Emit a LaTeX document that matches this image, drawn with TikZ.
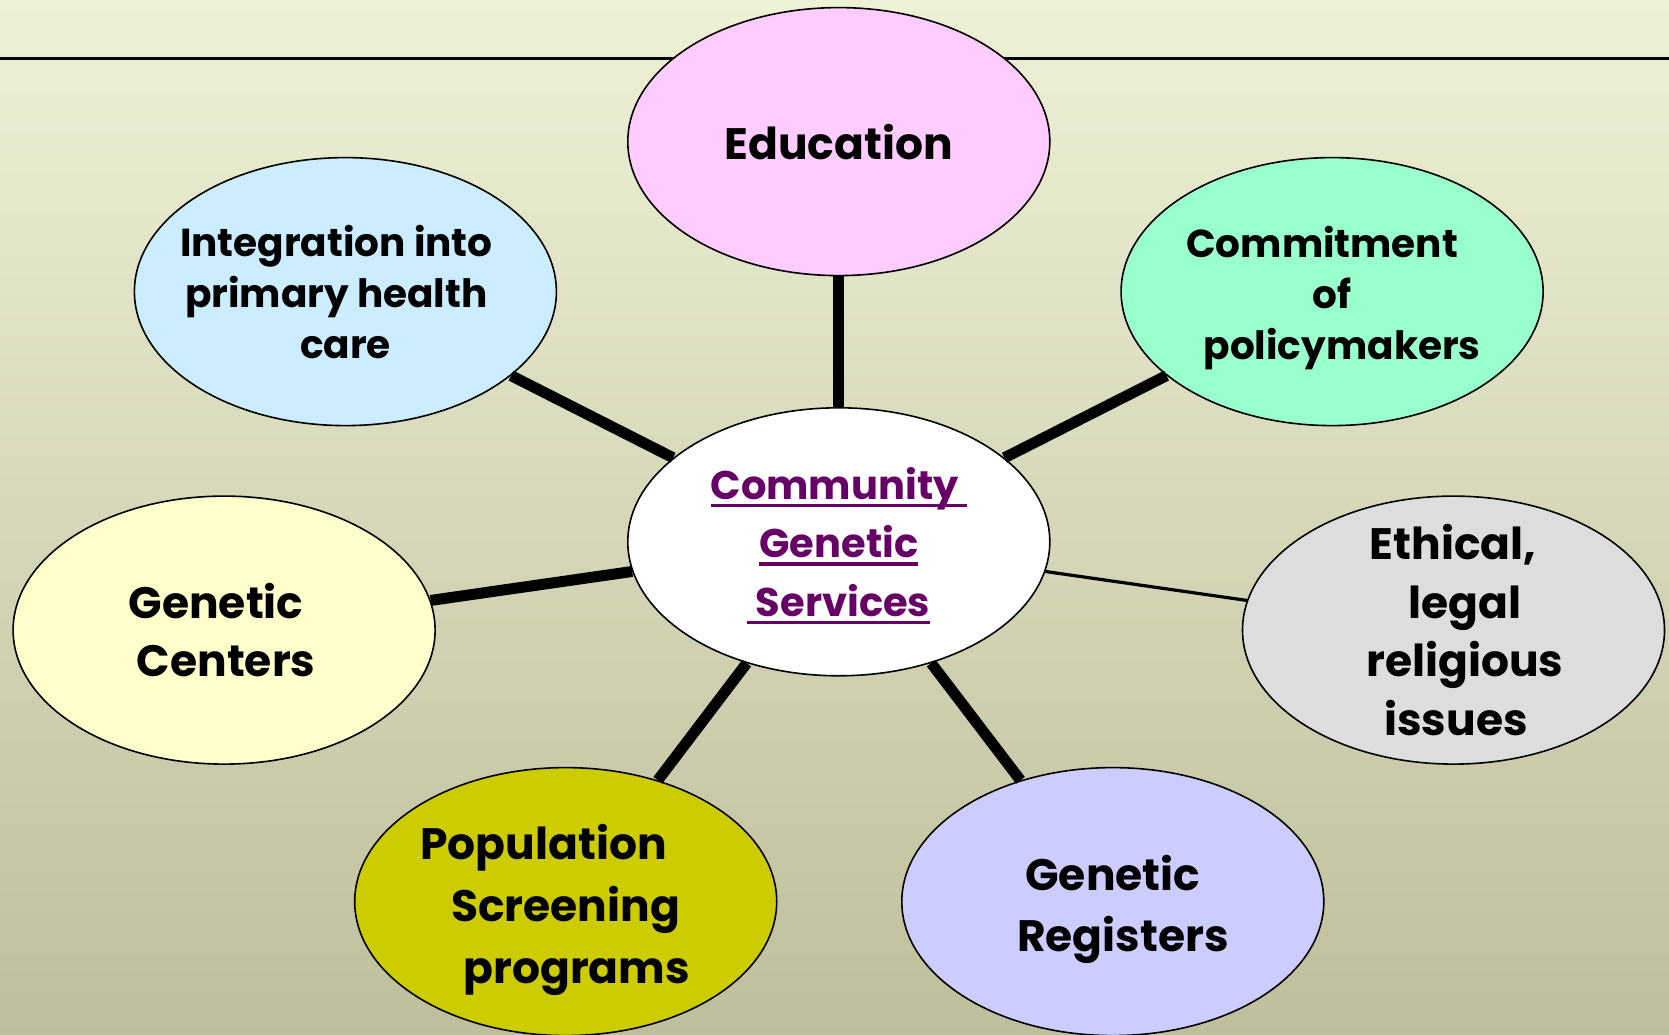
\documentclass[tikz,border=0pt]{standalone}
\usepackage{fontspec}
\setmainfont{Poppins}
\usetikzlibrary{shapes.geometric}
\definecolor{bgtop}{HTML}{EEF1D6}
\definecolor{bgbot}{HTML}{BFBE9C}
\definecolor{cpurple}{HTML}{660066}
\newcommand{\myul}[1]{\setbox0\hbox{#1}\rlap{\raisebox{-8pt}{\rule{\wd0}{3.5pt}}}\box0}
\newcommand{\sh}[1]{\hspace*{#1}}
\tikzset{
  bubble/.style={ellipse, draw=black, line width=1.6pt, minimum width=422pt, minimum height=268pt, inner sep=0pt},
  thick link/.style={line width=11pt},
  thin link/.style={line width=3.2pt},
  label txt/.style={align=center, inner sep=0pt},
  bigtxt/.style={label txt, font=\fontsize{44}{58}\selectfont\bfseries},
  smalltxt/.style={label txt, font=\fontsize{39}{51}\selectfont\bfseries},
}
\begin{document}
\begin{tikzpicture}[x=1pt,y=-1pt]
\useasboundingbox (0,0) rectangle (1669,1035);
\shade[top color=bgtop, bottom color=bgbot] (0,0) rectangle (1669,1035);
\coordinate (hl) at (0,58.5);
\coordinate (hr) at (1669,58.5);
\draw[line width=2.5pt] (hl) -- (hr);

\node[bubble, fill=white] (cgs) at (838.8,541.8) {};
\node[bubble, fill={rgb,255:red,255;green,204;blue,255}] (edu) at (838.8,141.6) {};
\node[bubble, fill={rgb,255:red,204;green,236;blue,255}] (int) at (345.4,291.6) {};
\node[bubble, fill={rgb,255:red,153;green,255;blue,204}] (com) at (1332.1,291.6) {};
\node[bubble, fill={rgb,255:red,255;green,255;blue,204}] (gc) at (224.1,630.1) {};
\node[bubble, fill={rgb,255:red,221;green,221;blue,221}] (eth) at (1453.5,630.1) {};
\node[bubble, fill={rgb,255:red,204;green,204;blue,0}] (pop) at (565.7,901.6) {};
\node[bubble, fill={rgb,255:red,204;green,204;blue,255}] (reg) at (1112.8,901.6) {};

\draw[thick link] (cgs) -- (edu);
\draw[thick link] (cgs) -- (int);
\draw[thick link] (cgs) -- (com);
\draw[thick link] (cgs) -- (gc);
\draw[thin link] (cgs) -- (eth);
\draw[thick link] (cgs) -- (pop);
\draw[thick link] (cgs) -- (reg);

\node[bigtxt] (tedu) at (edu) {Education};
\node[label txt, font=\fontsize{40}{58.5}\selectfont\bfseries, text=cpurple] (tcgs) at ([yshift=-4pt]cgs) {\myul{Community\ }\\\myul{Genetic}\\\myul{\ Services}};
\node[smalltxt] (tint) at ([xshift=-9pt]int) {Integration into\\primary health\\\sh{18pt}care};
\node[smalltxt] (tcom) at ([xshift=0pt,yshift=-6.4pt]com) {\sh{-20pt}Commitment\\of\\\sh{20pt}policymakers};
\node[bigtxt, font=\fontsize{44}{57.5}\selectfont\bfseries] (tgc) at ([xshift=-3pt]gc) {\sh{-10pt}Genetic\\\sh{10pt}Centers};
\node[bigtxt, font=\fontsize{44}{58.5}\selectfont\bfseries] (teth) at ([xshift=9.5pt]eth) {\sh{-20pt}Ethical,\\\sh{4pt}legal\\\sh{4pt}religious\\\sh{-14pt}issues};
\node[bigtxt, font=\fontsize{44}{62}\selectfont\bfseries] (tpop) at ([xshift=0pt,yshift=-8.7pt]pop) {\sh{-44pt}Population\\Screening\\\sh{22pt}programs};
\node[bigtxt, font=\fontsize{44}{61}\selectfont\bfseries] (treg) at ([xshift=6pt,yshift=-7.6pt]reg) {\sh{-12pt}Genetic\\\sh{8pt}Registers};
\end{tikzpicture}
\end{document}
